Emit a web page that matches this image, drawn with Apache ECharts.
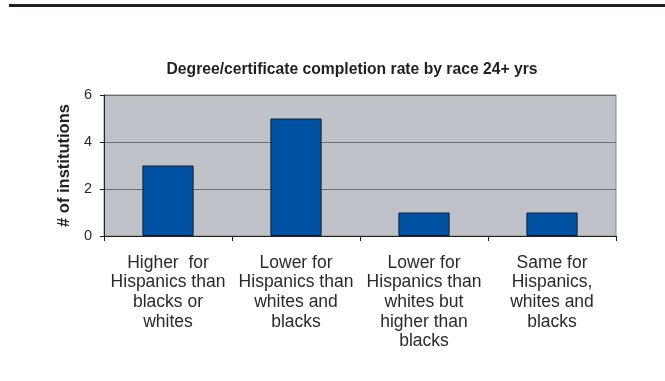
<!DOCTYPE html>
<html>
<head>
<meta charset="utf-8">
<script src="https://cdn.jsdelivr.net/npm/echarts@6/dist/echarts.min.js"></script>
<style>
html,body{margin:0;padding:0;background:#fff;}
#chart{width:665px;height:381px;}
</style>
</head>
<body>
<div id="chart"></div>
<script>
const categories = [
  'Higher  for\nHispanics than\nblacks or\nwhites',
  'Lower for\nHispanics than\nwhites and\nblacks',
  'Lower for\nHispanics than\nwhites but\nhigher than\nblacks',
  'Same for\nHispanics,\nwhites and\nblacks'
];
const institutions = [3, 5, 1, 1];
const yTicks = { min: 0, max: 6, interval: 2 };

const chart = echarts.init(document.getElementById('chart'), null, { renderer: 'canvas' });
const font = 'Liberation Sans, Arial, sans-serif';
chart.setOption({
  animation: false,
  backgroundColor: '#ffffff',
  graphic: [{
    type: 'rect',
    shape: { x: 9, y: 4, width: 656, height: 3 },
    style: { fill: '#231f20' }
  }],
  title: {
    text: 'Degree/certificate completion rate by race 24+ yrs',
    left: 347, top: 57, textAlign: 'center',
    textStyle: { fontFamily: font, fontSize: 15.7, fontWeight: 'bold', color: '#231f20' }
  },
  grid: {
    left: 104, top: 95, width: 512, height: 141,
    show: true, backgroundColor: '#c0c2c9', borderColor: '#8a8a8a', borderWidth: 1
  },
  xAxis: {
    type: 'category',
    data: categories,
    axisLine: { lineStyle: { color: '#231f20', width: 1 } },
    axisTick: { show: true, length: 5, alignWithLabel: false, lineStyle: { color: '#231f20' } },
    axisLabel: {
      interval: 0, margin: 17, fontFamily: font, fontSize: 17.5, lineHeight: 19.7,
      color: '#2a2a2a', align: 'center'
    }
  },
  yAxis: {
    type: 'value',
    min: yTicks.min, max: yTicks.max, interval: yTicks.interval,
    name: '# of institutions',
    nameLocation: 'middle', nameGap: 25, nameRotate: 90,
    nameTextStyle: { fontFamily: font, fontSize: 16.5, fontWeight: 'bold', color: '#231f20' },
    axisLine: { show: true, lineStyle: { color: '#231f20', width: 1 } },
    axisTick: { show: true, length: 4, lineStyle: { color: '#231f20' } },
    axisLabel: { margin: 12, fontFamily: font, fontSize: 14.5, color: '#2a2a2a' },
    splitLine: { show: true, lineStyle: { color: '#6e6e6e', width: 1 } }
  },
  series: [{
    type: 'bar',
    data: institutions,
    barWidth: '40%',
    itemStyle: { color: '#0052a3', borderColor: '#1a1a33', borderWidth: 1 }
  }]
});
</script>
</body>
</html>
